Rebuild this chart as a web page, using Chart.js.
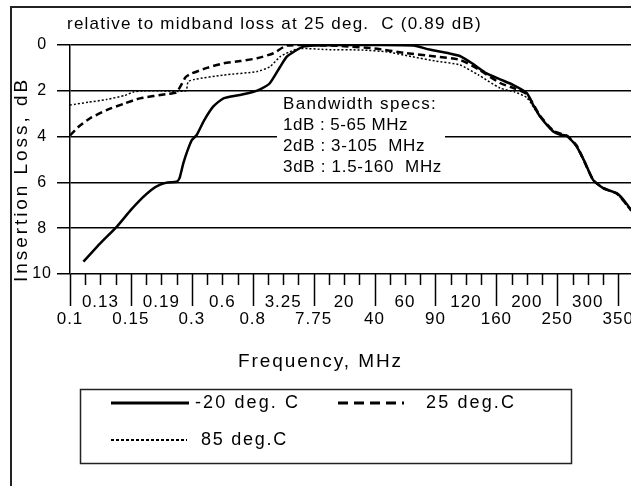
<!DOCTYPE html>
<html>
<head>
<meta charset="utf-8">
<script src="https://cdn.jsdelivr.net/npm/chart.js@4.4.1/dist/chart.umd.min.js"></script>
<style>
  html, body { margin: 0; padding: 0; background: #fff; }
  #wrap { width: 631px; height: 486px; position: relative; }
</style>
</head>
<body>
<div id="wrap"><canvas id="lossChart" width="631" height="486"></canvas></div>
<script>
// x positions are in "axis divisions": 0 = 0.1 MHz, 1 = 0.15 MHz, ... 9 = 350 MHz
const majorLabels = ['0.1', '0.15', '0.3', '0.8', '7.75', '40', '90', '160', '250', '350'];
const midLabels = ['0.13', '0.19', '0.6', '3.25', '20', '60', '120', '200', '300'];
const yTicks = [0, 2, 4, 6, 8, 10];

// -20 deg. C
const coldPos = [0.22, 0.5, 0.77, 1.0, 1.15, 1.35, 1.48, 1.6, 1.75, 1.8, 1.86, 1.93, 2.0, 2.08, 2.2, 2.35, 2.52, 2.79, 3.0, 3.12, 3.28, 3.45, 3.56, 3.7, 3.83, 4.0, 4.5, 5.0, 5.64, 5.9, 6.2, 6.4, 6.6, 6.84, 7.06, 7.28, 7.5, 7.6, 7.72, 7.94, 8.05, 8.16, 8.32, 8.45, 8.59, 8.76, 8.98, 9.1, 9.21];
const coldLoss = [9.46, 8.65, 7.93, 7.2, 6.77, 6.3, 6.1, 6.0, 5.97, 5.8, 5.17, 4.6, 4.15, 3.93, 3.3, 2.69, 2.33, 2.18, 2.05, 1.94, 1.67, 0.95, 0.51, 0.25, 0.07, 0.02, 0.0, 0.0, 0.02, 0.2, 0.35, 0.48, 0.8, 1.24, 1.5, 1.75, 2.1, 2.6, 3.13, 3.79, 3.92, 3.97, 4.44, 5.1, 5.9, 6.26, 6.48, 6.8, 7.2];

// 25 deg. C
const roomPos = [0, 0.15, 0.33, 0.6, 0.9, 1.15, 1.59, 1.75, 1.9, 2.0, 2.25, 2.52, 2.8, 3.07, 3.34, 3.56, 4.0, 4.5, 5.0, 5.5, 6.0, 6.4, 6.7, 7.06, 7.3, 7.5, 7.72, 7.94, 8.16, 8.32, 8.59, 8.76, 8.98, 9.21];
const roomLoss = [3.95, 3.55, 3.2, 2.84, 2.55, 2.33, 2.14, 2.06, 1.4, 1.24, 1.0, 0.8, 0.7, 0.58, 0.36, 0.02, 0.0, 0.05, 0.15, 0.35, 0.5, 0.65, 1.05, 1.66, 1.9, 2.15, 3.1, 3.75, 3.97, 4.4, 5.9, 6.25, 6.5, 7.2];

// 85 deg. C
const hotPos = [0, 0.3, 0.6, 0.9, 1.04, 1.2, 1.5, 1.9, 1.94, 2.05, 2.52, 3.07, 3.28, 3.45, 3.6, 3.78, 4.2, 4.8, 5.2, 5.6, 6.0, 6.4, 6.7, 7.06, 7.3, 7.5, 7.72, 7.94, 8.16, 8.32, 8.59, 8.76, 8.98, 9.21];
const hotLoss = [2.62, 2.5, 2.38, 2.2, 2.05, 2.0, 2.0, 2.0, 1.6, 1.5, 1.31, 1.16, 0.95, 0.51, 0.3, 0.15, 0.2, 0.22, 0.3, 0.5, 0.7, 0.87, 1.3, 1.88, 2.05, 2.3, 3.15, 3.8, 3.98, 4.45, 5.9, 6.27, 6.5, 7.25];

const FONT = '"Liberation Sans", Arial, sans-serif';

function toPoints(xs, ys) {
    return xs.map((x, i) => ({ x: x, y: ys[i] }));
}

// the old chart font is wider than Arial, so stretch text with letter spacing
function fitText(ctx, text, x, y, width) {
    ctx.letterSpacing = '0px';
    const w = ctx.measureText(text).width;
    const n = Array.from(text).length;
    ctx.letterSpacing = Math.max(0, (width - w) / n).toFixed(2) + 'px';
    ctx.fillText(text, x, y);
    ctx.letterSpacing = '0px';
}

// all the static drawing: frame, captions, bandwidth note, x ticks, legend
const decorPlugin = {
    id: 'decor',
    beforeDraw(chart) {
        const ctx = chart.ctx;
        ctx.save();
        ctx.fillStyle = '#fff';
        ctx.fillRect(0, 0, chart.width, chart.height);
        ctx.strokeStyle = '#222';
        ctx.lineWidth = 2;
        ctx.strokeRect(11, 7, chart.width + 20, chart.height + 20);
        ctx.restore();
        ctx.letterSpacing = '1px'; // for the tick labels
    },
    beforeDatasetsDraw(chart) {
        // bandwidth note sits on a white box that hides the 4 dB grid line
        const ctx = chart.ctx;
        ctx.letterSpacing = '0px';
        ctx.save();
        ctx.fillStyle = '#fff';
        ctx.fillRect(277, 95, 168, 82);
        ctx.fillStyle = '#000';
        ctx.font = '17px ' + FONT;
        ctx.textBaseline = 'middle';
        const lines = ['Bandwidth specs:', '1dB : 5-65 MHz', '2dB : 3-105  MHz', '3dB : 1.5-160  MHz'];
        const widths = [154, 125, 142, 159];
        lines.forEach((t, i) => fitText(ctx, t, 283, 104 + i * 21, widths[i]));
        ctx.restore();
    },
    afterDraw(chart) {
        const ctx = chart.ctx;
        const xs = chart.scales.x;
        const area = chart.chartArea;
        ctx.save();
        ctx.strokeStyle = '#000';
        ctx.lineWidth = 1.5;

        // x tick marks: long at each labelled division, short in between
        for (let k = 0; k <= 36; k++) {
            const px = Math.round(xs.getPixelForValue(k / 4)) + 0.5;
            const len = (k % 4 === 0) ? 32 : 11;
            ctx.beginPath();
            ctx.moveTo(px, area.bottom);
            ctx.lineTo(px, area.bottom + len);
            ctx.stroke();
        }

        ctx.fillStyle = '#000';
        ctx.textBaseline = 'middle';
        ctx.textAlign = 'left';
        ctx.font = '17px ' + FONT;
        fitText(ctx, 'relative to midband loss at 25 deg.  C (0.89 dB)', 67, 24, 415);

        ctx.font = '19px ' + FONT;
        fitText(ctx, 'Frequency, MHz', 238, 362, 165);

        ctx.save();
        ctx.translate(22, 282);
        ctx.rotate(-Math.PI / 2);
        fitText(ctx, 'Insertion Loss, dB', 0, 0, 205);
        ctx.restore();

        // legend
        ctx.lineWidth = 1.5;
        ctx.strokeStyle = '#222';
        ctx.strokeRect(80.5, 389.5, 491, 74);
        const items = [
            { ds: 0, x1: 111, x2: 189, y: 403, tx: 195, w: 105 },
            { ds: 1, x1: 338, x2: 404, y: 403, tx: 426, w: 90 },
            { ds: 2, x1: 111, x2: 187, y: 440, tx: 201, w: 87 }
        ];
        const legendDash = [[], [10, 6], [3, 2]];
        ctx.font = '18px ' + FONT;
        items.forEach((it, i) => {
            const ds = chart.data.datasets[it.ds];
            ctx.strokeStyle = '#000';
            ctx.lineWidth = i === 2 ? 2 : 3;
            ctx.setLineDash(legendDash[i]);
            ctx.beginPath();
            ctx.moveTo(it.x1, it.y);
            ctx.lineTo(it.x2, it.y);
            ctx.stroke();
            ctx.setLineDash([]);
            fitText(ctx, ds.label, it.tx, it.y, it.w);
        });
        ctx.restore();
    }
};

new Chart(document.getElementById('lossChart'), {
    type: 'line',
    data: {
        datasets: [
            {
                label: '-20 deg. C',
                data: toPoints(coldPos, coldLoss),
                borderColor: '#000',
                borderWidth: 2.5,
                pointRadius: 0,
                tension: 0.2
            },
            {
                label: '25 deg.C',
                data: toPoints(roomPos, roomLoss),
                borderColor: '#000',
                borderWidth: 2.5,
                borderDash: [7, 4],
                pointRadius: 0,
                tension: 0.2
            },
            {
                label: '85 deg.C',
                data: toPoints(hotPos, hotLoss),
                borderColor: '#000',
                borderWidth: 1.5,
                borderDash: [2, 2],
                pointRadius: 0,
                tension: 0.2
            }
        ]
    },
    options: {
        responsive: false,
        animation: false,
        layout: { padding: { top: 45, left: 0, right: 0, bottom: 152 } },
        plugins: {
            legend: { display: false },
            tooltip: { enabled: false }
        },
        scales: {
            x: {
                type: 'linear',
                min: 0,
                max: 9.21,
                afterBuildTicks: (scale) => {
                    scale.ticks = [];
                    for (let k = 0; k <= 18; k++) scale.ticks.push({ value: k / 2 });
                },
                afterFit: (scale) => {
                    scale.height = 60;
                    scale.paddingLeft = 0;
                    scale.paddingRight = 0;
                },
                ticks: {
                    autoSkip: false,
                    maxRotation: 0,
                    padding: 12,
                    color: '#000',
                    font: { family: FONT, size: 17, lineHeight: 0.98 },
                    callback: (value) => {
                        const k = Math.round(value * 2);
                        if (k % 2 === 0) return ['', majorLabels[k / 2]];
                        return [midLabels[(k - 1) / 2], ''];
                    }
                },
                grid: { display: false },
                border: { display: false }
            },
            y: {
                type: 'linear',
                min: 0,
                max: 10,
                reverse: true,
                afterBuildTicks: (scale) => {
                    scale.ticks = yTicks.map(v => ({ value: v }));
                },
                afterFit: (scale) => {
                    scale.width = 70;
                    scale.paddingTop = 0;
                    scale.paddingBottom = 0;
                },
                ticks: {
                    padding: 6,
                    crossAlign: 'center',
                    color: '#000',
                    font: { family: FONT, size: 16 }
                },
                grid: {
                    color: '#000',
                    lineWidth: 1.5,
                    tickLength: 13
                },
                border: { display: true, color: '#000', width: 1.5 }
            }
        }
    },
    plugins: [decorPlugin]
});
</script>
</body>
</html>
